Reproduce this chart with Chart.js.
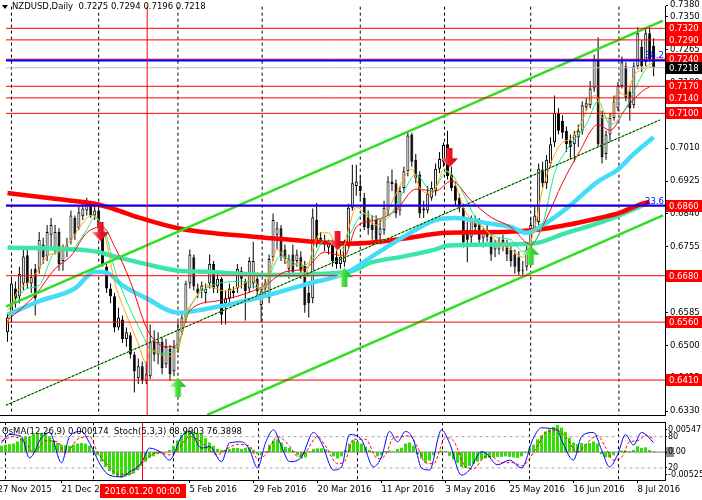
<!DOCTYPE html>
<html><head><meta charset="utf-8">
<script src="https://cdn.jsdelivr.net/npm/chart.js@4.4.0/dist/chart.umd.min.js"></script>
<style>
html,body{margin:0;padding:0;background:#fff;width:702px;height:500px;overflow:hidden}
#p1{position:absolute;left:0;top:0;width:702px;height:421px}
#p2{position:absolute;left:0;top:421px;width:702px;height:79px}
</style></head><body>
<div id="p1"><canvas id="c1" width="702" height="421" style="width:702px;height:421px"></canvas></div>
<div id="p2"><canvas id="c2" width="702" height="79" style="width:702px;height:79px"></canvas></div>
<script>
// ---------------- data ----------------
const symbolTitle = 'NZDUSD,Daily  0.7275 0.7294 0.7196 0.7218';
const openP=[
0.6534,0.6577,0.6647,0.6627,0.6660,0.6733,0.6660,0.6698,0.6698,0.6761,
0.6730,0.6786,0.6748,0.6793,0.6718,0.6748,0.6773,0.6829,0.6803,0.6834,
0.6849,0.6866,0.6836,0.6849,0.6793,0.6703,0.6647,0.6627,0.6546,0.6567,
0.6516,0.6526,0.6476,0.6415,0.6446,0.6408,0.6420,0.6509,0.6476,0.6509,
0.6451,0.6491,0.6433,0.6491,0.6534,0.6572,0.6660,0.6728,0.6647,0.6642,
0.6635,0.6660,0.6710,0.6652,0.6672,0.6609,0.6622,0.6642,0.6647,0.6693,
0.6665,0.6647,0.6660,0.6672,0.6604,0.6647,0.6622,0.6728,0.6786,0.6803,
0.6748,0.6698,0.6735,0.6718,0.6728,0.6705,0.6635,0.6622,0.6824,0.6773,
0.6773,0.6753,0.6761,0.6728,0.6710,0.6715,0.6761,0.6856,0.6912,0.6912,
0.6882,0.6831,0.6811,0.6824,0.6786,0.6798,0.6849,0.6924,0.6919,0.6849,
0.6907,0.6950,0.7045,0.6980,0.6942,0.6849,0.6849,0.6882,0.6899,0.6957,
0.6975,0.7020,0.6942,0.6912,0.6882,0.6856,0.6798,0.6781,0.6824,0.6816,
0.6778,0.6798,0.6781,0.6748,0.6748,0.6773,0.6761,0.6748,0.6735,0.6728,
0.6693,0.6703,0.6753,0.6803,0.6819,0.6955,0.6919,0.6970,0.7025,0.7101,
0.7081,0.7055,0.7030,0.7020,0.7038,0.7055,0.7116,0.7121,0.7164,0.7239,
0.7096,0.6995,0.7045,0.7088,0.7113,0.7171,0.7222,0.7156,0.7121,0.7222,
0.7272,0.7232,0.7307,0.7275];
const highP=[
0.6584,0.6672,0.6665,0.6703,0.6748,0.6748,0.6698,0.6710,0.6793,0.6778,
0.6811,0.6829,0.6811,0.6803,0.6761,0.6778,0.6849,0.6836,0.6861,0.6874,
0.6882,0.6874,0.6861,0.6859,0.6803,0.6710,0.6660,0.6635,0.6597,0.6577,
0.6546,0.6534,0.6483,0.6466,0.6458,0.6458,0.6554,0.6539,0.6534,0.6521,
0.6516,0.6501,0.6514,0.6559,0.6584,0.6667,0.6748,0.6735,0.6660,0.6665,
0.6660,0.6735,0.6718,0.6685,0.6677,0.6642,0.6660,0.6652,0.6710,0.6703,
0.6672,0.6728,0.6768,0.6685,0.6647,0.6672,0.6735,0.6841,0.6819,0.6811,
0.6761,0.6735,0.6761,0.6748,0.6743,0.6718,0.6660,0.6854,0.6869,0.6793,
0.6786,0.6773,0.6773,0.6748,0.6748,0.6773,0.6866,0.6967,0.6967,0.6937,
0.6894,0.6849,0.6836,0.6836,0.6824,0.6874,0.6937,0.6955,0.6929,0.6912,
0.6962,0.7050,0.7050,0.6995,0.6950,0.6874,0.6912,0.6924,0.6970,0.7000,
0.7025,0.7055,0.6962,0.6924,0.6892,0.6866,0.6819,0.6836,0.6836,0.6829,
0.6803,0.6811,0.6793,0.6773,0.6778,0.6786,0.6773,0.6761,0.6748,0.6743,
0.6718,0.6761,0.6829,0.6861,0.6970,0.6975,0.6992,0.7038,0.7146,0.7113,
0.7096,0.7066,0.7045,0.7055,0.7071,0.7131,0.7139,0.7184,0.7252,0.7297,
0.7106,0.7055,0.7101,0.7146,0.7181,0.7247,0.7232,0.7171,0.7232,0.7323,
0.7290,0.7323,0.7328,0.7294];
const lowP=[
0.6509,0.6559,0.6597,0.6609,0.6642,0.6647,0.6635,0.6577,0.6685,0.6710,
0.6718,0.6753,0.6735,0.6693,0.6693,0.6728,0.6761,0.6773,0.6798,0.6824,
0.6836,0.6829,0.6824,0.6793,0.6703,0.6635,0.6609,0.6534,0.6539,0.6506,
0.6496,0.6466,0.6378,0.6400,0.6400,0.6400,0.6413,0.6458,0.6451,0.6425,
0.6441,0.6408,0.6420,0.6481,0.6526,0.6559,0.6647,0.6642,0.6622,0.6622,
0.6609,0.6647,0.6635,0.6635,0.6554,0.6554,0.6609,0.6622,0.6635,0.6647,
0.6564,0.6635,0.6647,0.6630,0.6559,0.6627,0.6609,0.6718,0.6748,0.6718,
0.6710,0.6672,0.6677,0.6703,0.6672,0.6584,0.6572,0.6609,0.6753,0.6761,
0.6743,0.6735,0.6703,0.6698,0.6698,0.6703,0.6753,0.6849,0.6887,0.6879,
0.6798,0.6786,0.6773,0.6766,0.6761,0.6786,0.6836,0.6899,0.6829,0.6836,
0.6894,0.6937,0.6962,0.6919,0.6829,0.6829,0.6841,0.6874,0.6887,0.6945,
0.6962,0.6929,0.6899,0.6861,0.6844,0.6753,0.6715,0.6761,0.6786,0.6761,
0.6753,0.6768,0.6718,0.6728,0.6735,0.6743,0.6718,0.6703,0.6685,0.6682,
0.6677,0.6693,0.6743,0.6793,0.6811,0.6909,0.6904,0.6962,0.7013,0.7045,
0.7035,0.7000,0.6980,0.6975,0.7013,0.7045,0.7106,0.7113,0.7156,0.7013,
0.6970,0.6980,0.7025,0.7081,0.7106,0.7164,0.7131,0.7081,0.7113,0.7214,
0.7207,0.7222,0.7232,0.7196];
const closeP=[
0.6572,0.6660,0.6622,0.6685,0.6730,0.6660,0.6677,0.6622,0.6773,0.6728,
0.6793,0.6811,0.6793,0.6710,0.6748,0.6761,0.6836,0.6786,0.6844,0.6854,
0.6866,0.6836,0.6849,0.6803,0.6710,0.6647,0.6627,0.6546,0.6572,0.6516,
0.6534,0.6476,0.6433,0.6446,0.6408,0.6425,0.6509,0.6476,0.6509,0.6441,
0.6496,0.6425,0.6496,0.6541,0.6572,0.6660,0.6735,0.6652,0.6635,0.6655,
0.6647,0.6710,0.6647,0.6672,0.6579,0.6622,0.6647,0.6635,0.6698,0.6672,
0.6640,0.6718,0.6718,0.6640,0.6640,0.6660,0.6723,0.6824,0.6803,0.6730,
0.6723,0.6723,0.6690,0.6735,0.6693,0.6604,0.6609,0.6831,0.6761,0.6778,
0.6761,0.6766,0.6718,0.6710,0.6730,0.6761,0.6856,0.6919,0.6924,0.6899,
0.6806,0.6803,0.6798,0.6773,0.6803,0.6856,0.6924,0.6917,0.6841,0.6899,
0.6950,0.7043,0.6975,0.6932,0.6841,0.6854,0.6892,0.6907,0.6957,0.6982,
0.7018,0.6937,0.6907,0.6874,0.6856,0.6766,0.6773,0.6824,0.6806,0.6773,
0.6791,0.6781,0.6735,0.6761,0.6766,0.6756,0.6735,0.6718,0.6703,0.6690,
0.6695,0.6748,0.6811,0.6836,0.6957,0.6919,0.6980,0.7020,0.7101,0.7055,
0.7050,0.7020,0.7013,0.7045,0.7055,0.7121,0.7126,0.7164,0.7239,0.7020,
0.6987,0.7045,0.7088,0.7131,0.7171,0.7232,0.7139,0.7113,0.7222,0.7307,
0.7222,0.7307,0.7239,0.7218];

// moving averages: [bar index, price]
const maSlowRed=[[0,0.6894],[12,0.6879],[22,0.6866],[27,0.6852],[33,0.6831],[43,0.6803],[63,0.6780],[75,0.6770],[86,0.6763],[92,0.6766],[100,0.6776],[111,0.6791],[125,0.6793],[133,0.6798],[141,0.6811],[150,0.6831],[154,0.6841],[160,0.6866],[162,0.6871]];
const maAqua=[[0,0.6753],[22,0.6743],[27,0.6730],[35,0.6710],[43,0.6693],[50,0.6690],[67,0.6682],[86,0.6690],[92,0.6715],[100,0.6730],[108,0.6748],[111,0.6758],[125,0.6761],[133,0.6764],[141,0.6791],[150,0.6819],[158,0.6852],[162,0.6871]];
const maCyan=[[0,0.6579],[8,0.6614],[17,0.6647],[22,0.6690],[25,0.6688],[29,0.6655],[35,0.6622],[43,0.6584],[50,0.6594],[63,0.6622],[75,0.6657],[86,0.6690],[92,0.6730],[100,0.6781],[108,0.6824],[113,0.6829],[121,0.6816],[127,0.6806],[131,0.6791],[135,0.6811],[141,0.6854],[149,0.6924],[154,0.6955],[158,0.6995],[163,0.7038]];
const maOrange=[[0,0.6554],[2,0.6630],[5,0.6660],[8,0.6698],[10,0.6731],[13,0.6741],[16,0.6773],[19,0.6816],[21,0.6836],[23,0.6824],[25,0.6766],[27,0.6665],[30,0.6579],[33,0.6504],[35,0.6454],[36,0.6490],[40,0.6471],[43,0.6489],[45,0.6579],[47,0.6615],[50,0.6655],[55,0.6640],[59,0.6655],[62,0.6673],[64,0.6640],[66,0.6680],[68,0.6748],[70,0.6723],[71,0.6705],[74,0.6715],[75,0.6680],[77,0.6748],[79,0.6791],[81,0.6791],[84,0.6731],[86,0.6799],[88,0.6857],[91,0.6831],[93,0.6811],[96,0.6849],[98,0.6892],[102,0.6955],[104,0.6907],[107,0.6892],[109,0.6932],[110,0.6955],[113,0.6917],[115,0.6857],[117,0.6824],[120,0.6806],[123,0.6773],[127,0.6748],[130,0.6728],[133,0.6804],[135,0.6904],[140,0.7025],[142,0.7033],[145,0.7081],[148,0.7146],[149,0.7139],[150,0.7088],[152,0.7088],[154,0.7156],[156,0.7146],[158,0.7197],[160,0.7214],[163,0.7232]];
const maGreen=[[0,0.6590],[5,0.6647],[8,0.6655],[12,0.6741],[16,0.6748],[20,0.6799],[22,0.6831],[25,0.6781],[27,0.6698],[30,0.6615],[34,0.6529],[36,0.6489],[40,0.6479],[43,0.6504],[46,0.6597],[50,0.6647],[59,0.6665],[64,0.6647],[69,0.6731],[74,0.6705],[77,0.6723],[80,0.6773],[84,0.6748],[86,0.6781],[90,0.6841],[95,0.6824],[100,0.6899],[103,0.6942],[107,0.6899],[111,0.6950],[115,0.6892],[118,0.6831],[123,0.6781],[127,0.6773],[130,0.6743],[135,0.6811],[138,0.6945],[141,0.7005],[146,0.7071],[149,0.7131],[152,0.7071],[155,0.7096],[158,0.7156],[161,0.7214],[163,0.7222]];
const maRedThin=[[0,0.6564],[7,0.6630],[12,0.6698],[16,0.6731],[20,0.6791],[24,0.6806],[27,0.6756],[31,0.6665],[35,0.6547],[38,0.6504],[41,0.6496],[43,0.6504],[46,0.6590],[53,0.6615],[59,0.6630],[65,0.6655],[70,0.6690],[75,0.6698],[80,0.6741],[85,0.6731],[88,0.6806],[93,0.6824],[98,0.6849],[103,0.6904],[108,0.6899],[112,0.6925],[117,0.6874],[122,0.6831],[127,0.6806],[132,0.6761],[136,0.6829],[140,0.6920],[144,0.6995],[149,0.7071],[152,0.7056],[156,0.7113],[160,0.7156],[162,0.7169]];

// channel lines [bar index, price]
const channelUpper=[[-0.375,0.6600],[165.375,0.7340]];
const channelLower=[[50.375,0.6320],[165.375,0.6836]];
const channelMid=[[-0.375,0.6345],[164.6,0.7083]];

// horizontal levels
const levels=[0.7320,0.7290,0.7240,0.7170,0.7140,0.7100,0.6860,0.6680,0.6560,0.6410];
const fibLevels=[0.72368,0.68614];
const fibNames=['38.2','23.6'];
const bidPrice=0.7218;
const priceTicks=[0.6330,0.6415,0.6500,0.6585,0.6670,0.6755,0.6840,0.6925,0.7010,0.7095,0.7180,0.7265,0.7350,0.7380];

// signal arrows [bar index, price]
const arrowsDown=[[23.5,0.6794],[83.25,0.6771],[111.5,0.6985]];
const arrowsUp=[[43,0.6391],[85,0.6675],[132,0.6733]];

// vertical grid and cursor (bar index)
const gridIdx=[1,23,43,64.25,89,110.25,132,154.25];
const cursorIdx=35.25;
const cursorText='2016.01.20 00:00';

// time axis
const labelIdx=[-1,15,47,63,79,95,111,127,143,159];
const labelTxt=['27 Nov 2015','21 Dec 2015','5 Feb 2016','29 Feb 2016','20 Mar 2016','11 Apr 2016','3 May 2016','25 May 2016','16 Jun 2016','8 Jul 2016'];

// oscillators
const indTitle='OsMA(12,26,9) 0.000174  Stoch(5,3,3) 68.9903 76.3898';
const osma=[
0.0012,0.0014,0.0015,0.0016,0.0020,0.0026,0.0030,0.0030,0.0034,0.0035,
0.0036,0.0035,0.0030,0.0022,0.0017,0.0014,0.0013,0.0012,0.0014,0.0016,
0.0017,0.0016,0.0012,0.0004,-0.0006,-0.0018,-0.0028,-0.0036,-0.0042,-0.0047,
-0.0048,-0.0046,-0.0044,-0.0040,-0.0034,-0.0026,-0.0018,-0.0011,-0.0008,-0.0004,
-0.0002,-0.0001,0.0004,0.0012,0.0022,0.0032,0.0038,0.0040,0.0038,0.0036,
0.0034,0.0026,0.0018,0.0012,0.0006,0.0004,0.0004,0.0006,0.0008,0.0008,
0.0006,0.0008,0.0009,0.0004,-0.0004,-0.0006,0.0002,0.0014,0.0022,0.0024,
0.0018,0.0010,0.0008,0.0002,-0.0006,-0.0012,-0.0010,0.0002,0.0006,0.0007,
0.0007,0.0005,0.0001,-0.0008,-0.0012,-0.0008,0.0004,0.0016,0.0022,0.0020,
0.0016,0.0010,0.0004,0.0000,-0.0008,-0.0006,0.0002,0.0003,0.0001,0.0006,
0.0008,0.0016,0.0018,0.0012,-0.0004,-0.0012,-0.0020,-0.0016,-0.0006,0.0000,
0.0003,0.0002,-0.0007,-0.0014,-0.0020,-0.0028,-0.0030,-0.0026,-0.0022,-0.0018,
-0.0014,-0.0012,-0.0010,-0.0010,-0.0009,-0.0009,-0.0008,-0.0009,-0.0010,-0.0011,
-0.0008,-0.0002,0.0007,0.0014,0.0024,0.0032,0.0039,0.0043,0.0047,0.0051,
0.0046,0.0038,0.0027,0.0018,0.0015,0.0017,0.0015,0.0017,0.0020,0.0016,
-0.0004,-0.0010,-0.0010,-0.0006,0.0000,0.0003,0.0003,0.0002,0.0004,0.0011,
0.0008,0.0009,0.0004,0.000174];
const stochMain=[[0,68],[2,84],[5,80],[7,39],[10,78],[12,88],[15,30],[17,80],[20,90],[22,68],[25,22],[27,6],[30,3],[32,12],[35,30],[37,58],[40,49],[42,35],[45,80],[47,90],[50,58],[52,61],[55,32],[57,68],[60,70],[62,55],[64,20],[66,68],[68,93],[70,61],[72,32],[75,41],[78,88],[80,68],[83,16],[85,22],[87,84],[90,74],[93,22],[95,41],[97,90],[99,70],[101,90],[103,74],[105,20],[107,16],[110,93],[112,68],[115,6],[117,16],[120,51],[121,49],[124,26],[127,35],[130,20],[133,78],[135,97],[137,96],[139,93],[140,74],[143,35],[145,80],[148,88],[150,55],[152,22],[154,45],[156,84],[158,64],[160,88],[163,68.99]];
const stochSignal=[[0,72],[3,80],[6,68],[8,50],[11,72],[14,70],[16,48],[19,75],[22,80],[24,50],[27,22],[29,8],[32,8],[34,20],[37,42],[39,50],[42,45],[44,55],[47,80],[49,75],[51,62],[54,45],[56,55],[59,65],[62,62],[64,38],[66,45],[69,80],[72,62],[74,42],[76,50],[79,80],[81,62],[84,28],[86,35],[88,75],[91,75],[94,38],[96,45],[98,78],[100,80],[102,82],[104,60],[106,30],[108,28],[111,78],[113,72],[116,22],[118,18],[121,42],[123,40],[125,30],[128,30],[130,24],[134,62],[136,88],[139,92],[141,80],[144,50],[146,65],[149,82],[151,60],[153,35],[155,40],[157,70],[159,72],[161,82],[163,76.39]];
const stochLevels=[80,20];
const indLabelPos=[93.5,80,50,20,7.4];
const indLabelTxt=['0.00547','80','0.00','20','-0.00525'];

// ---------------- view ----------------
const X_MIN=-0.375, X_MAX=165.875;
const Y_MAX=0.73777, Y_MIN=0.63197;
const OS_MIN=-0.00525, OS_MAX=0.00547;
const ST_MIN=-3.2, ST_MAX=106.2;
const FONT='"DejaVu Sans", sans-serif';
const FS=8.5;

const xy=p=>p.map(a=>({x:a[0],y:a[1]}));
function lineDS(data,color,width,order,extra){
  return Object.assign({type:'line',data,borderColor:color,borderWidth:width,pointRadius:0,fill:false,order,tension:0,yAxisID:'y'},extra||{});
}
function arrowImg(up,light,main,dark){
  const w=17,h=19,c=document.createElement('canvas');c.width=w;c.height=h;
  const g=c.getContext('2d');
  if(!up){g.translate(0,h);g.scale(1,-1);}
  g.beginPath();g.moveTo(8.5,0);g.lineTo(17,9);g.lineTo(11.5,9);g.lineTo(11.5,19);g.lineTo(5.5,19);g.lineTo(5.5,9);g.lineTo(0,9);g.closePath();
  const grd=g.createLinearGradient(0,0,w,0);grd.addColorStop(0,light);grd.addColorStop(0.45,main);grd.addColorStop(1,dark);
  g.fillStyle=grd;g.fill();
  return c;
}
const redArrow=arrowImg(false,'#ff8090','#f01828','#c80010');
const greenArrow=arrowImg(true,'#c0ffb0','#40e040','#20b020');

// ---------------- main chart ----------------
const ds1=[];
gridIdx.forEach(g=>ds1.push(lineDS([{x:g,y:Y_MIN-0.01},{x:g,y:Y_MAX+0.01}],'#000',1,100,{borderDash:[3,3]})));
ds1.push({type:'bar',data:highP.map((h,i)=>({x:i,y:[lowP[i],h]})),backgroundColor:'#000',borderWidth:0,barThickness:1,maxBarThickness:1,grouped:false,inflateAmount:0,order:90,yAxisID:'y'});
ds1.push({type:'bar',data:openP.map((o,i)=>({x:i,y:[Math.min(o,closeP[i]),Math.max(o,closeP[i])]})),
  backgroundColor:closeP.map((c,i)=>c>=openP[i]?'#ffffff':'#000000'),borderColor:'#000',borderWidth:1,borderSkipped:false,
  barThickness:3,maxBarThickness:3,grouped:false,inflateAmount:0,minBarLength:1,order:89,yAxisID:'y'});
const mono={cubicInterpolationMode:'monotone'};
ds1.push(lineDS(xy(maAqua),'#3ce6aa',4.5,60,mono));
ds1.push(lineDS(xy(maSlowRed),'#ff0000',4.5,59,mono));
ds1.push(lineDS(xy(maCyan),'#44dcf6',4.5,58,mono));
ds1.push(lineDS(xy(maRedThin),'#ff0000',1,57,mono));
ds1.push(lineDS(xy(maGreen),'#22e888',1,56,mono));
ds1.push(lineDS(xy(maOrange),'#ffa500',1,55,mono));
ds1.push(lineDS(xy(channelUpper),'#33dd22',2.6,30));
ds1.push(lineDS(xy(channelLower),'#33dd22',2.6,30));
ds1.push(lineDS(xy(channelMid),'#33dd22',1,31));
ds1.push(lineDS(xy(channelMid),'#000',1,29,{borderDash:[2,2]}));
levels.forEach(v=>ds1.push(lineDS([{x:-2,y:v},{x:170,y:v}],'#ff0000',1,20)));
ds1.push(lineDS([{x:-2,y:bidPrice},{x:170,y:bidPrice}],'#c0c0c0',1,21));
fibLevels.forEach(v=>ds1.push(lineDS([{x:-2,y:v},{x:170,y:v}],'#0000ff',2,19)));
ds1.push(lineDS([{x:cursorIdx,y:Y_MIN-0.01},{x:cursorIdx,y:Y_MAX+0.01}],'#ff0000',1,18));
ds1.push(lineDS(xy(arrowsDown),'#f00',0,5,{showLine:false,pointRadius:6,pointStyle:redArrow}));
ds1.push(lineDS(xy(arrowsUp),'#0f0',0,5,{showLine:false,pointRadius:6,pointStyle:greenArrow}));

const mainDeco={id:'mainDeco',afterDraw(chart){
  const ctx=chart.ctx,ys=chart.scales.y,a=chart.chartArea;
  ctx.save();
  ctx.fillStyle='#000';ctx.fillRect(0,a.bottom,a.right+1,1);
  ctx.font=FS+'px '+FONT;
  ctx.fillStyle='#0000ff';ctx.textAlign='right';ctx.textBaseline='alphabetic';
  fibLevels.forEach((v,k)=>ctx.fillText(fibNames[k],a.right-1,ys.getPixelForValue(v)-2));
  ctx.textAlign='left';ctx.textBaseline='middle';
  levels.forEach(v=>{const y=Math.round(ys.getPixelForValue(v));
    ctx.fillStyle='#ff0000';ctx.fillRect(a.right+1,y-6,37,12);
    ctx.fillStyle='#fff';ctx.fillText(v.toFixed(4),a.right+4,y+0.5);});
  const yb=Math.round(ys.getPixelForValue(bidPrice));
  ctx.fillStyle='#000';ctx.fillRect(a.right+1,yb-6,37,12);
  ctx.fillStyle='#fff';ctx.fillText(bidPrice.toFixed(4),a.right+4,yb+0.5);
  ctx.fillStyle='#000';
  ctx.beginPath();ctx.moveTo(2,5);ctx.lineTo(8,5);ctx.lineTo(5,9);ctx.closePath();ctx.fill();
  ctx.fillText(symbolTitle,12,7);
  ctx.restore();
}};

new Chart(document.getElementById('c1'),{
  type:'bar',
  data:{datasets:ds1},
  plugins:[mainDeco],
  options:{
    responsive:false,animation:false,devicePixelRatio:1,
    layout:{padding:{left:0,right:0,top:0,bottom:1}},
    plugins:{legend:{display:false},tooltip:{enabled:false}},
    scales:{
      x:{type:'linear',min:X_MIN,max:X_MAX,display:false,offset:false,grid:{offset:false}},
      y:{type:'linear',position:'right',min:Y_MIN,max:Y_MAX,
        afterBuildTicks(s){s.ticks=priceTicks.map(v=>({value:v}));},
        afterFit(s){s.width=37;s.paddingTop=0;s.paddingBottom=0;},
        ticks:{autoSkip:false,padding:2,color:'#000',font:{family:FONT,size:FS},callback:v=>Number(v).toFixed(4)},
        grid:{drawOnChartArea:false,drawTicks:true,tickLength:3,color:'#000'},
        border:{display:true,color:'#000'}}
    }
  }
});

// ---------------- indicator chart ----------------
const ds2=[];
gridIdx.forEach(g=>ds2.push(lineDS([{x:g,y:ST_MIN-10},{x:g,y:ST_MAX+10}],'#000',1,100,{borderDash:[3,3],yAxisID:'st'})));
ds2.push({type:'bar',data:osma.map((v,i)=>({x:i,y:v})),backgroundColor:'#2fe000',borderWidth:0,barThickness:3,maxBarThickness:3,grouped:false,inflateAmount:0,order:80,yAxisID:'os'});
stochLevels.forEach(v=>ds2.push(lineDS([{x:-2,y:v},{x:170,y:v}],'#a8a8a8',1,60,{borderDash:[3,3],yAxisID:'st'})));
ds2.push(lineDS([{x:-2,y:0},{x:170,y:0}],'#808080',1,59,{yAxisID:'os'}));
ds2.push(lineDS(xy(stochSignal),'#ff0000',1,40,{borderDash:[3,2],yAxisID:'st',cubicInterpolationMode:'monotone'}));
ds2.push(lineDS(xy(stochMain),'#0000ff',1,39,{yAxisID:'st',cubicInterpolationMode:'monotone'}));
ds2.push(lineDS([{x:cursorIdx,y:ST_MIN-10},{x:cursorIdx,y:ST_MAX+10}],'#ff0000',1,10,{yAxisID:'st'}));

const indDeco={id:'indDeco',
  beforeDraw(chart){
    const ctx=chart.ctx,a=chart.chartArea,st=chart.scales.st;
    const y=Math.round(st.getPixelForValue(50));
    ctx.save();ctx.fillStyle='#8c8c8c';ctx.fillRect(a.right+1,y-5,8,10);ctx.restore();
  },
  afterDraw(chart){
    const ctx=chart.ctx,a=chart.chartArea,xs=chart.scales.x;
    ctx.save();
    ctx.fillStyle='#000';ctx.fillRect(0,a.top-1,a.right+1,1);
    ctx.font=FS+'px '+FONT;ctx.textBaseline='middle';ctx.textAlign='left';
    ctx.fillStyle='#000';ctx.fillText(indTitle,2,a.top+9);
    const cx=xs.getPixelForValue(cursorIdx);
    const w=ctx.measureText(cursorText).width+10;
    ctx.fillStyle='#ff0000';ctx.fillRect(Math.round(cx-w/2),a.bottom+4,Math.round(w),14);
    ctx.fillStyle='#fff';ctx.textAlign='center';ctx.fillText(cursorText,cx,a.bottom+11.5);
    ctx.restore();
  }};

new Chart(document.getElementById('c2'),{
  type:'bar',
  data:{datasets:ds2},
  plugins:[indDeco],
  options:{
    responsive:false,animation:false,devicePixelRatio:1,
    layout:{padding:{left:0,right:0,top:2,bottom:0}},
    plugins:{legend:{display:false},tooltip:{enabled:false}},
    scales:{
      x:{type:'linear',position:'bottom',min:X_MIN,max:X_MAX,offset:false,
        afterBuildTicks(s){s.ticks=labelIdx.map(v=>({value:v}));},
        afterFit(s){s.height=20;s.paddingLeft=0;s.paddingRight=0;},
        ticks:{autoSkip:false,maxRotation:0,align:'start',padding:2,color:'#000',font:{family:FONT,size:FS},callback:(v,i)=>labelTxt[i]},
        grid:{drawOnChartArea:false,drawTicks:true,tickLength:3,color:'#000',offset:false},
        border:{display:true,color:'#000'}},
      os:{type:'linear',display:false,min:OS_MIN,max:OS_MAX},
      st:{type:'linear',position:'right',min:ST_MIN,max:ST_MAX,
        afterBuildTicks(s){s.ticks=indLabelPos.map(v=>({value:v}));},
        afterFit(s){s.width=37;s.paddingTop=0;s.paddingBottom=0;},
        ticks:{autoSkip:false,padding:1,color:'#000',font:{family:FONT,size:8},callback:(v,i)=>indLabelTxt[i]},
        grid:{drawOnChartArea:false,drawTicks:true,tickLength:2,color:'#000'},
        border:{display:true,color:'#000'}}
    }
  }
});
</script>
</body></html>
